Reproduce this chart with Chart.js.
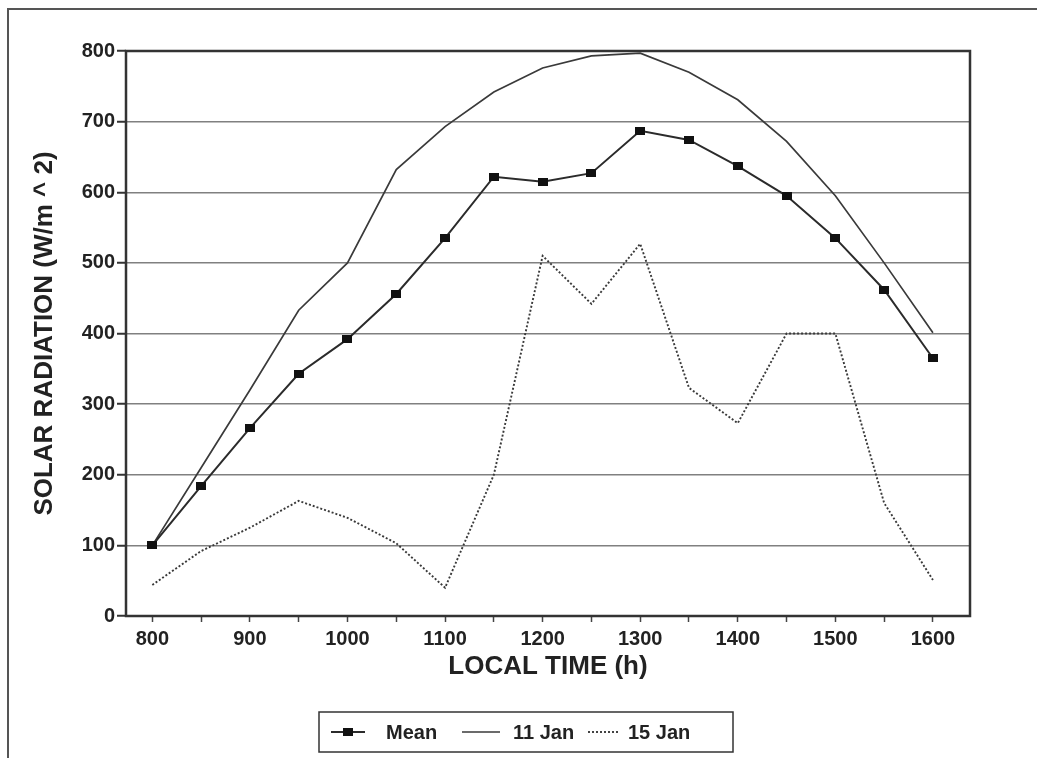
<!DOCTYPE html>
<html>
<head>
<meta charset="utf-8">
<title>Solar radiation</title>
<script src="https://cdn.jsdelivr.net/npm/chart.js@4.4.0/dist/chart.umd.min.js"></script>
<style>
  html, body { margin: 0; padding: 0; background: #fff; }
  #wrap { position: relative; width: 1037px; height: 759px; overflow: hidden; }
  #frame { position: absolute; left: 7px; top: 8px; right: -4px; bottom: 1px; border-top: 2px solid #555; border-left: 2px solid #555; }
  canvas { position: absolute; left: 0; top: 0; }
</style>
</head>
<body>
<div id="wrap">
  <div id="frame"></div>
  <canvas id="solarChart" width="1037" height="759"></canvas>
</div>
<script>
/* eslint-disable no-undef */
// local time of each reading (h)
const hours = [800, 850, 900, 950, 1000, 1050, 1100, 1150, 1200, 1250, 1300, 1350, 1400, 1450, 1500, 1550, 1600]
// solar radiation, W/m^2
const mean = [100, 184, 266, 343, 392, 456, 535, 622, 615, 627, 687, 674, 637, 595, 535, 462, 365]
const jan11 = [100, 210, 320, 433, 500, 632, 693, 742, 776, 793, 797, 770, 731, 672, 595, 500, 401]
const jan15 = [44, 92, 125, 163, 139, 103, 40, 200, 510, 442, 527, 323, 273, 400, 400, 160, 51]
const seriesNames = ['Mean', '11 Jan', '15 Jan']

const FONT = "'Liberation Sans', Arial, Helvetica, sans-serif"
const INK = '#222'

// small filled rectangle used as the point marker of the mean curve
function makeMarker (w, h) {
  const c = document.createElement('canvas')
  c.width = w
  c.height = h
  const g = c.getContext('2d')
  g.fillStyle = '#111'
  g.fillRect(0, 0, w, h)
  return c
}
const marker = makeMarker(10, 8)

const toPoints = (values) => values.map((v, i) => ({ x: hours[i], y: v }))

// box around the plot area
const plotFrame = {
  id: 'plotFrame',
  beforeDatasetsDraw (chart) {
    const { ctx, chartArea: a } = chart
    ctx.save()
    ctx.strokeStyle = '#333'
    ctx.lineWidth = 2.5
    ctx.strokeRect(a.left, a.top, a.right - a.left, a.bottom - a.top)
    ctx.restore()
  }
}

// boxed legend under the x axis title
const boxLegend = {
  id: 'boxLegend',
  afterDraw (chart) {
    const { ctx } = chart
    const box = { x: 319, y: 712, w: 414, h: 40 }
    const cy = box.y + box.h / 2
    const items = [
      { from: 331, to: 365, text: 386 },
      { from: 462, to: 500, text: 513 },
      { from: 588, to: 620, text: 628 }
    ]
    ctx.save()
    ctx.strokeStyle = '#333'
    ctx.lineWidth = 1.5
    ctx.strokeRect(box.x, box.y, box.w, box.h)
    chart.data.datasets.forEach((ds, i) => {
      const it = items[i]
      ctx.strokeStyle = ds.borderColor
      ctx.lineWidth = ds.borderWidth
      ctx.setLineDash(ds.borderDash || [])
      ctx.beginPath()
      ctx.moveTo(it.from, cy)
      ctx.lineTo(it.to, cy)
      ctx.stroke()
      ctx.setLineDash([])
      if (ds.pointRadius > 0) {
        const mx = (it.from + it.to) / 2
        ctx.drawImage(marker, mx - marker.width / 2, cy - marker.height / 2)
      }
      ctx.fillStyle = INK
      ctx.font = `bold 20px ${FONT}`
      ctx.textBaseline = 'middle'
      ctx.textAlign = 'left'
      ctx.fillText(ds.label, it.text, cy + 1)
    })
    ctx.restore()
  }
}

const ctx = document.getElementById('solarChart').getContext('2d')
const solarChart = new Chart(ctx, {
  type: 'line',
  data: {
    datasets: [
      {
        label: seriesNames[0],
        data: toPoints(mean),
        borderColor: '#2b2b2b',
        borderWidth: 2,
        pointStyle: marker,
        pointRadius: 5,
        pointHoverRadius: 5
      },
      {
        label: seriesNames[1],
        data: toPoints(jan11),
        borderColor: '#3a3a3a',
        borderWidth: 1.7,
        pointRadius: 0
      },
      {
        label: seriesNames[2],
        data: toPoints(jan15),
        borderColor: '#3a3a3a',
        borderWidth: 1.9,
        borderDash: [2, 2],
        pointRadius: 0
      }
    ]
  },
  options: {
    responsive: false,
    animation: false,
    devicePixelRatio: 1,
    layout: { padding: { left: 0, top: 51, right: 67, bottom: 63 } },
    plugins: {
      legend: { display: false },
      tooltip: { enabled: false }
    },
    scales: {
      x: {
        type: 'linear',
        min: 773,
        max: 1638,
        afterBuildTicks: (scale) => {
          scale.ticks = hours.map(h => ({ value: h }))
        },
        afterFit: (scale) => { scale.height = 80 },
        border: { display: false },
        grid: {
          drawOnChartArea: false,
          drawTicks: true,
          tickLength: 6,
          tickColor: '#444',
          tickWidth: 1.5
        },
        ticks: {
          autoSkip: false,
          maxRotation: 0,
          padding: 5,
          color: INK,
          font: { family: FONT, size: 20, weight: 'bold' },
          callback: (v) => (v % 100 === 0 ? String(v) : '')
        },
        title: {
          display: true,
          text: 'LOCAL TIME (h)',
          color: INK,
          padding: 14,
          font: { family: FONT, size: 26, weight: 'bold' }
        }
      },
      y: {
        min: 0,
        max: 800,
        afterFit: (scale) => { scale.width = 126 },
        border: { display: false },
        grid: {
          color: '#808080',
          lineWidth: 1.5,
          tickLength: 9,
          tickColor: '#333',
          tickWidth: 2
        },
        ticks: {
          stepSize: 100,
          padding: 2,
          color: INK,
          font: { family: FONT, size: 20, weight: 'bold' }
        },
        title: {
          display: true,
          text: 'SOLAR RADIATION (W/m ^ 2)',
          color: INK,
          padding: 29,
          font: { family: FONT, size: 26, weight: 'bold' }
        }
      }
    }
  },
  plugins: [plotFrame, boxLegend]
})
</script>
</body>
</html>
